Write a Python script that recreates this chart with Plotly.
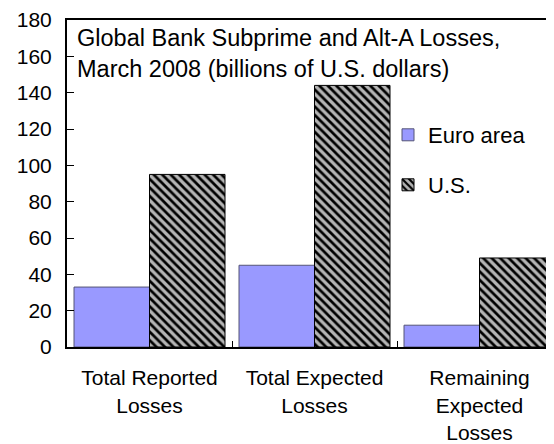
import plotly.graph_objects as go

categories = ["Total Reported<br>Losses", "Total Expected<br>Losses", "Remaining<br>Expected<br>Losses"]
euro_area = [33, 45, 12]
us = [95, 144, 49]
title_text = "Global Bank Subprime and Alt-A Losses,<br>March 2008 (billions of U.S. dollars)"

FONT = "Arial, 'Liberation Sans', sans-serif"
# page body has an 8px default margin, so the figure is sized to fit the window
W, H = 546, 436
L, R, T, B = 59, 0, 12, 97
pw = W - L - R
ph = H - T - B
cat_px = 165.0
xmax = pw / cat_px - 0.5

fig = go.Figure()
fig.add_trace(go.Bar(
    x=categories, y=euro_area, name="Euro area",
    marker=dict(color="#9999FF", line=dict(color="#555577", width=1)),
    legend="legend",
))
fig.add_trace(go.Bar(
    x=categories, y=us, name="U.S.",
    marker=dict(color="#aaaaaa", line=dict(color="black", width=1),
                pattern=dict(shape="\\", fgcolor="black", bgcolor="#b4b4b4",
                             size=6, solidity=0.45, fillmode="replace")),
    legend="legend2",
))

fig.update_layout(
    width=W, height=H,
    margin=dict(l=L, r=R, t=T, b=B, pad=0, autoexpand=False),
    paper_bgcolor="white", plot_bgcolor="white",
    showlegend=True,
    barmode="group", bargap=14 / 165, bargroupgap=0,
    font=dict(family=FONT, size=22, color="black"),
    xaxis=dict(
        type="category", range=[-0.5, xmax], automargin=False,
        showline=True, linecolor="black", linewidth=2, mirror=True,
        ticks="inside", ticklen=6, tickwidth=1, tickcolor="black",
        tickson="boundaries", showgrid=False, zeroline=False,
        tickfont=dict(size=21), ticklabelstandoff=11,
    ),
    yaxis=dict(
        range=[0, 180], dtick=20, tick0=0, automargin=False,
        showline=True, linecolor="black", linewidth=2, mirror=False,
        ticks="inside", ticklen=7, tickwidth=1, tickcolor="black",
        showgrid=False, zeroline=False,
        tickfont=dict(size=21), ticklabelstandoff=9,
    ),
    yaxis2=dict(
        range=[0, 180], dtick=20, tick0=0, overlaying="y", side="right",
        anchor="x", showline=False, showticklabels=False, automargin=False,
        ticks="inside", ticklen=2, tickwidth=1, tickcolor="black",
        showgrid=False, zeroline=False, layer="below traces",
    ),
    legend=dict(
        x=(380 - L) / pw, xanchor="left", y=(H - B - 127) / ph, yanchor="middle",
        bgcolor="rgba(0,0,0,0)", font=dict(size=22), borderwidth=0,
    ),
    legend2=dict(
        x=(380 - L) / pw, xanchor="left", y=(H - B - 177) / ph, yanchor="middle",
        bgcolor="rgba(0,0,0,0)", font=dict(size=22), borderwidth=0,
    ),
    annotations=[dict(
        text=title_text, xref="paper", yref="paper",
        x=8 / pw, y=1, xanchor="left", yanchor="top", yshift=-3,
        align="left", showarrow=False, font=dict(size=23.5),
    )],
)

fig.write_html("out.html")
